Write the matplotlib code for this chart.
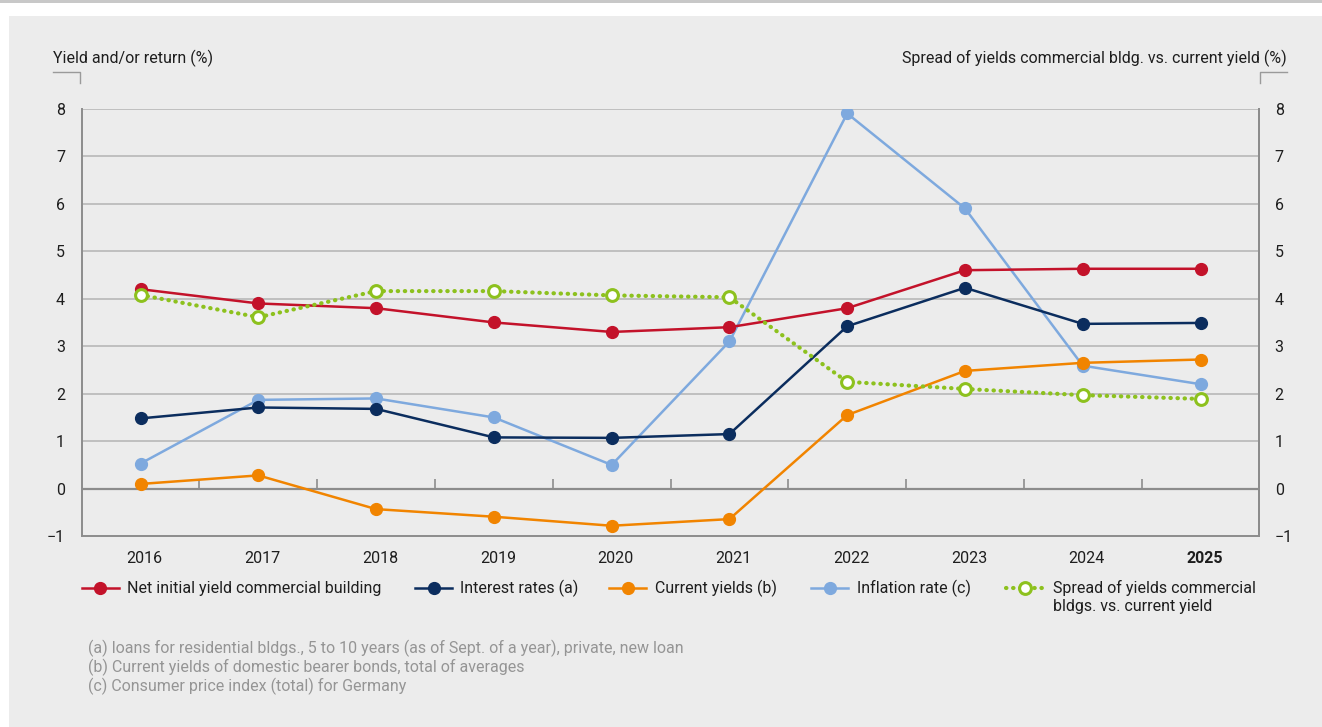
import matplotlib
matplotlib.use("Agg")
import matplotlib.pyplot as plt
import matplotlib.transforms as mtransforms
from matplotlib.patches import Rectangle
from matplotlib.lines import Line2D

plt.rcParams['font.family'] = ['Roboto', 'DejaVu Sans']

years = ["2016", "2017", "2018", "2019", "2020", "2021", "2022", "2023", "2024", "2025"]
net_initial_yield = [4.2, 3.9, 3.8, 3.5, 3.3, 3.4, 3.8, 4.6, 4.63, 4.63]
interest_rates = [1.48, 1.71, 1.68, 1.08, 1.07, 1.15, 3.42, 4.23, 3.47, 3.49]
current_yields = [0.1, 0.28, -0.43, -0.59, -0.78, -0.64, 1.55, 2.48, 2.65, 2.72]
inflation_rate = [0.53, 1.87, 1.9, 1.5, 0.5, 3.1, 7.9, 5.9, 2.59, 2.2]
spread = [4.08, 3.61, 4.16, 4.16, 4.07, 4.03, 2.25, 2.1, 1.97, 1.89]
y_ticks = [-1, 0, 1, 2, 3, 4, 5, 6, 7, 8]

legend_labels = ["Net initial yield commercial building", "Interest rates (a)",
                 "Current yields (b)", "Inflation rate (c)",
                 "Spread of yields commercial\nbldgs. vs. current yield"]
footnotes = ["(a) loans for residential bldgs., 5 to 10 years (as of Sept. of a year), private, new loan",
             "(b) Current yields of domestic bearer bonds, total of averages",
             "(c) Consumer price index (total) for Germany"]

RED = "#c3122a"
NAVY = "#0b2d5e"
ORANGE = "#f18400"
BLUE = "#7ea9de"
GREEN = "#8dc11e"
BG = "#ececec"
GRID = "#bcbcbc"
AXC = "#8c8c8c"
TXT = "#1e1e1e"
FS = 11.5

W, H = 1322, 727
fig = plt.figure(figsize=(W / 100, H / 100), dpi=100, facecolor="white")

def fx(px):
    return px / W

def fy(py):
    return 1 - py / H

# background panel and top rule
fig.patches.append(Rectangle((fx(9), 0), 1 - fx(9), fy(16), transform=fig.transFigure,
                             facecolor=BG, edgecolor="none", zorder=-5))
fig.patches.append(Rectangle((0, fy(3)), 1, 3 / H, transform=fig.transFigure,
                             facecolor="#c8c8c8", edgecolor="none", zorder=-5))

left, right, top, bottom = 81.7, 1259.4, 108.7, 536.2
ax = fig.add_axes([fx(left), fy(bottom), fx(right) - fx(left), fy(top) - fy(bottom)])
ax.set_facecolor("none")
x = list(range(len(years)))
ax.set_xlim(-0.5, len(years) - 0.5)
ax.set_ylim(-1, 8)

for v in range(1, 9):
    ax.axhline(v, color=GRID, lw=1.3, zorder=1)
ax.axhline(0, color=AXC, lw=1.6, zorder=1)
ax.vlines([i + 0.5 for i in range(len(years) - 1)], 0, 0.21, color=AXC, lw=1.2, zorder=1)

ax.spines["top"].set_visible(False)
for s in ["left", "right", "bottom"]:
    ax.spines[s].set_color(AXC)
    ax.spines[s].set_linewidth(1.4)

ms = 8.5
ax.plot(x, inflation_rate, color=BLUE, lw=1.8, marker="o", ms=ms, zorder=3)
ax.plot(x, current_yields, color=ORANGE, lw=1.8, marker="o", ms=ms, zorder=3)
ax.plot(x, interest_rates, color=NAVY, lw=1.8, marker="o", ms=ms, zorder=4)
ax.plot(x, net_initial_yield, color=RED, lw=1.8, marker="o", ms=ms, zorder=4)
ax.plot(x, spread, color=GREEN, lw=3, linestyle=(0, (0.1, 1.6)), dash_capstyle="round",
        zorder=5)
ax.plot(x, spread, color=GREEN, lw=0, marker="o", ms=ms, mfc="white", mec=GREEN, mew=2.2,
        zorder=6)

ax.set_xticks(x)
ax.set_xticklabels(years, fontsize=FS, color=TXT)
ax.get_xticklabels()[-1].set_fontweight("bold")
ax.tick_params(axis="x", length=0, pad=11)
shift = mtransforms.ScaledTranslation(4 / 100, 0, fig.dpi_scale_trans)
for lbl in ax.get_xticklabels():
    lbl.set_transform(lbl.get_transform() + shift)
ax.set_yticks(y_ticks)
ax.set_yticklabels([str(v).replace("-", "\u2212") for v in y_ticks], fontsize=FS, color=TXT)
ax.tick_params(axis="y", length=0, pad=12)

ax2 = ax.twinx()
ax2.set_ylim(-1, 8)
ax2.set_yticks(y_ticks)
ax2.set_yticklabels([str(v).replace("-", "\u2212") for v in y_ticks], fontsize=FS, color=TXT)
ax2.tick_params(axis="y", length=0, pad=11)
for s in ["top", "left", "bottom"]:
    ax2.spines[s].set_visible(False)
ax2.spines["right"].set_color(AXC)
ax2.spines["right"].set_linewidth(1.4)

# axis titles and brackets
fig.text(fx(53), fy(58), "Yield and/or return (%)", fontsize=FS, color=TXT,
         ha="left", va="center")
fig.text(fx(1287), fy(58), "Spread of yields commercial bldg. vs. current yield (%)",
         fontsize=FS, color=TXT, ha="right", va="center")
fig.add_artist(Line2D([fx(53), fx(80), fx(80)], [fy(72), fy(72), fy(83)],
                      transform=fig.transFigure, color="#9a9a9a", lw=1))
fig.add_artist(Line2D([fx(1287), fx(1260), fx(1260)], [fy(72), fy(72), fy(83)],
                      transform=fig.transFigure, color="#9a9a9a", lw=1))

# legend
leg_items = [
    (82, 127, RED, "solid"),
    (415, 460, NAVY, "solid"),
    (609, 655, ORANGE, "solid"),
    (811, 857, BLUE, "solid"),
    (1006, 1053, GREEN, "dotted"),
]
ly = 588
for (x0, tx, col, style), lab in zip(leg_items, legend_labels):
    x1 = x0 + 37
    if style == "solid":
        fig.add_artist(Line2D([fx(x0), fx(x1)], [fy(ly), fy(ly)], transform=fig.transFigure,
                              color=col, lw=1.8))
        fig.add_artist(Line2D([fx((x0 + x1) / 2)], [fy(ly)], transform=fig.transFigure,
                              color=col, marker="o", ms=8.5, lw=0))
    else:
        fig.add_artist(Line2D([fx(x0), fx(x1)], [fy(ly), fy(ly)], transform=fig.transFigure,
                              color=col, lw=3, linestyle=(0, (0.1, 1.6)),
                              dash_capstyle="round"))
        fig.add_artist(Line2D([fx((x0 + x1) / 2)], [fy(ly)], transform=fig.transFigure,
                              color=col, marker="o", ms=8.5, lw=0, mfc="white", mec=col,
                              mew=2.2))
    for j, part in enumerate(lab.split("\n")):
        fig.text(fx(tx), fy(ly + 19 * j), part, fontsize=FS, color=TXT,
                 ha="left", va="center")

for i, fn in enumerate(footnotes):
    fig.text(fx(88), fy(648 + 19.2 * i), fn, fontsize=FS, color="#959595",
             ha="left", va="center")

fig.savefig("out.png", dpi=100, facecolor=fig.get_facecolor())
